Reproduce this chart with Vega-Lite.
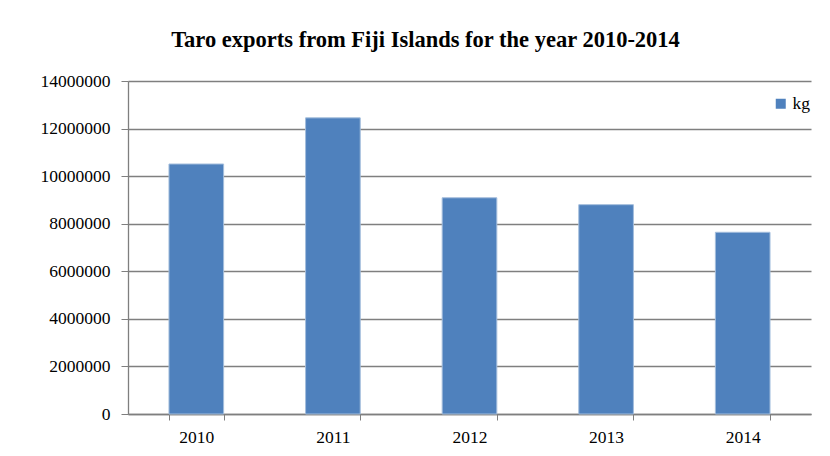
{
  "$schema": "https://vega.github.io/schema/vega-lite/v6.json",
  "autosize": "none",
  "width": 683,
  "height": 333,
  "padding": {"left": 128, "top": 81, "right": 19, "bottom": 42},
  "background": "white",
  "title": {
    "text": "Taro exports from Fiji Islands for the year 2010-2014",
    "font": "Liberation Serif",
    "fontSize": 22.5,
    "fontWeight": "bold",
    "color": "black",
    "anchor": "middle",
    "dx": -44,
    "offset": 21
  },
  "data": {
    "values": [
      {"year": "2010", "series": "kg", "value": 10510000},
      {"year": "2011", "series": "kg", "value": 12450000},
      {"year": "2012", "series": "kg", "value": 9090000},
      {"year": "2013", "series": "kg", "value": 8800000},
      {"year": "2014", "series": "kg", "value": 7640000}
    ]
  },
  "mark": {"type": "bar", "stroke": "#a3bddc", "strokeWidth": 1},
  "encoding": {
    "x": {
      "field": "year",
      "type": "nominal",
      "sort": null,
      "scale": {"paddingInner": 0.6, "paddingOuter": 0.3},
      "axis": {
        "title": null,
        "labelAngle": 0,
        "tickBand": "extent",
        "grid": false,
        "domainColor": "#7f7f7f",
        "domainWidth": 1.3,
        "tickColor": "#7f7f7f",
        "tickSize": 6,
        "labelPadding": 8,
        "labelFont": "Liberation Serif",
        "labelFontSize": 17.5,
        "labelColor": "black"
      }
    },
    "y": {
      "field": "value",
      "type": "quantitative",
      "scale": {"domain": [0, 14000000], "nice": false},
      "axis": {
        "title": null,
        "values": [0, 2000000, 4000000, 6000000, 8000000, 10000000, 12000000, 14000000],
        "format": "d",
        "grid": true,
        "gridColor": "#7f7f7f",
        "gridWidth": 1.3,
        "domainColor": "#7f7f7f",
        "domainWidth": 1.3,
        "tickColor": "#7f7f7f",
        "tickSize": 7,
        "labelPadding": 11,
        "labelFont": "Liberation Serif",
        "labelFontSize": 17.5,
        "labelColor": "black"
      }
    },
    "color": {
      "field": "series",
      "type": "nominal",
      "scale": {"range": ["#4F81BD"]},
      "legend": {
        "title": null,
        "orient": "none",
        "legendX": 644,
        "legendY": 14,
        "symbolType": "square",
        "symbolSize": 100,
        "symbolStrokeWidth": 0,
        "labelFont": "Liberation Serif",
        "labelFontSize": 17.5,
        "labelColor": "black",
        "labelOffset": 3
      }
    }
  },
  "config": {"font": "Liberation Serif", "view": {"stroke": null}}
}
